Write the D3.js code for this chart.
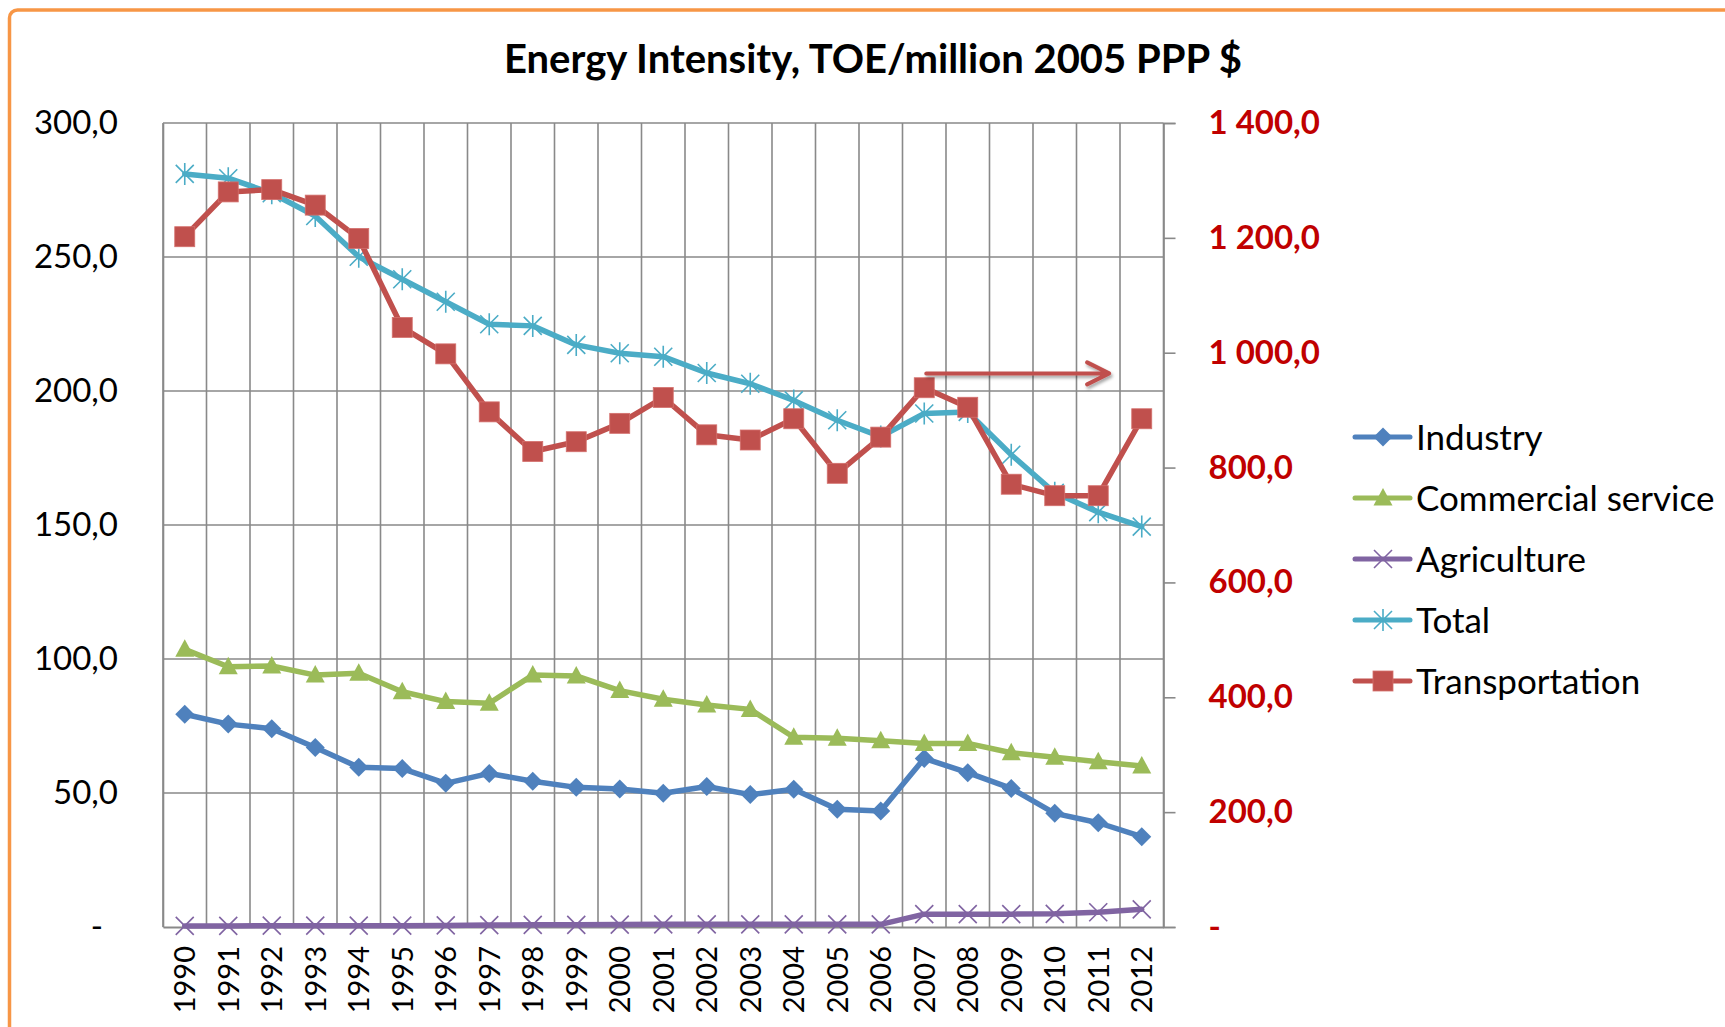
<!DOCTYPE html>
<html>
<head>
<meta charset="utf-8">
<script src="https://cdn.jsdelivr.net/npm/d3@7/dist/d3.min.js"></script>
<style>
  html, body { margin: 0; padding: 0; background: #fff; }
  svg { display: block; font-family: Lato, "Open Sans", sans-serif; }
</style>
</head>
<body>
<svg id="chart" width="1725" height="1027"></svg>
<script>
// data
//- - - - - - - - - - - - - - - - - - - - - -
var years = ["1990", "1991", "1992", "1993", "1994", "1995", "1996", "1997", "1998", "1999", "2000",
             "2001", "2002", "2003", "2004", "2005", "2006", "2007", "2008", "2009", "2010", "2011", "2012"];

var industry       = [79.4, 75.7, 74.0, 67.0, 59.6, 59.1, 53.6, 57.3, 54.4, 52.1, 51.5, 49.9,
                      52.4, 49.4, 51.4, 43.9, 43.3, 62.9, 57.6, 51.7, 42.4, 38.9, 33.7];
var commercial     = [103.6, 97.1, 97.4, 94.0, 94.7, 87.8, 84.1, 83.5, 94.0, 93.7, 88.2, 85.0,
                      82.8, 81.2, 70.8, 70.4, 69.5, 68.5, 68.5, 65.0, 63.3, 61.7, 60.1];
var agriculture    = [0.4, 0.4, 0.5, 0.5, 0.5, 0.5, 0.6, 0.7, 0.8, 0.8, 0.9, 1.0,
                      1.0, 1.0, 1.0, 1.0, 1.0, 4.8, 4.8, 4.8, 4.9, 5.5, 6.6];
var total          = [281.0, 279.4, 273.8, 265.3, 250.1, 241.7, 233.3, 224.9, 224.3, 217.2, 214.1, 212.8,
                      206.7, 202.7, 196.5, 189.1, 183.0, 191.6, 192.2, 176.2, 162.0, 154.8, 149.4];
var transportation = [1202, 1280, 1284, 1257, 1199, 1044, 998, 897, 828, 845, 877, 922,
                      857, 848, 885, 790, 853, 939, 905, 771, 751, 751, 885];

var leftTicks   = [0, 50, 100, 150, 200, 250, 300];
var leftLabels  = ["-", "50,0", "100,0", "150,0", "200,0", "250,0", "300,0"];
var rightTicks  = [0, 200, 400, 600, 800, 1000, 1200, 1400];
var rightLabels = ["-", "200,0", "400,0", "600,0", "800,0", "1 000,0", "1 200,0", "1 400,0"];

var title = "Energy Intensity, TOE/million 2005 PPP $";

// arrow pointing at the right axis: starts at 2007, ends part way through 2011/2012
var arrowFrom = 17, arrowTo = 21.25, arrowValue = 964;

var series = [
  { name: "Industry",           values: industry,       axis: "left",  color: "#4F81BD", marker: "diamond" },
  { name: "Commercial service", values: commercial,     axis: "left",  color: "#9BBB59", marker: "triangle" },
  { name: "Agriculture",        values: agriculture,    axis: "left",  color: "#8064A2", marker: "cross" },
  { name: "Total",              values: total,          axis: "left",  color: "#4BACC6", marker: "star" },
  { name: "Transportation",     values: transportation, axis: "right", color: "#C0504D", marker: "square" }
];

// layout
//- - - - - - - - - - - - - - - - - - - - - -
var plot = { left: 163, right: 1163.5, top: 123, bottom: 927 };
var gridColor = "#898989";

var svg = d3.select("#chart");

// orange frame of the chart area
svg.append("rect")
  .attr("x", 9.5).attr("y", 10)
  .attr("width", 1800).attr("height", 1100)
  .attr("rx", 8)
  .attr("fill", "#fff")
  .attr("stroke", "#F79646")
  .attr("stroke-width", 3.5);

var x = d3.scaleBand().domain(years).range([plot.left, plot.right]).padding(0);
var xIdx = d3.scaleLinear().domain([0, years.length]).range([plot.left, plot.right]);
var yL = d3.scaleLinear().domain([0, 300]).range([plot.bottom, plot.top]);
var yR = d3.scaleLinear().domain([0, 1400]).range([plot.bottom, plot.top]);

var cx = function (i) { return x(years[i]) + x.bandwidth() / 2; };

// title
svg.append("text")
  .attr("x", 873).attr("y", 73)
  .attr("text-anchor", "middle")
  .attr("font-size", 40).attr("font-weight", "bold")
  .attr("fill", "#000")
  .text(title);

// grid
//- - - - - - - - - - - - - - - - - - - - - -
var grid = svg.append("g");
grid.selectAll("line.h")
  .data(leftTicks.slice(1))
  .enter().append("line")
  .attr("x1", plot.left).attr("x2", plot.right)
  .attr("y1", function (d) { return yL(d); }).attr("y2", function (d) { return yL(d); })
  .attr("stroke", gridColor).attr("stroke-width", 1.6);

grid.selectAll("line.v")
  .data(d3.range(years.length + 1))
  .enter().append("line")
  .attr("x1", function (d) { return xIdx(d); }).attr("x2", function (d) { return xIdx(d); })
  .attr("y1", plot.top).attr("y2", plot.bottom)
  .attr("stroke", gridColor).attr("stroke-width", 1.6);

// axes
//- - - - - - - - - - - - - - - - - - - - - -
var leftAxis = d3.axisLeft(yL).tickValues(leftTicks).tickSize(0).tickPadding(45)
  .tickFormat(function (d, i) { return leftLabels[i]; });
var gL = svg.append("g").attr("transform", "translate(" + plot.left + ",0)").call(leftAxis);
gL.select(".domain").attr("stroke", gridColor).attr("stroke-width", 1.6);
gL.selectAll("text")
  .attr("font-size", 33).attr("fill", "#000")
  .attr("font-family", "Lato, 'Open Sans', sans-serif");
gL.selectAll(".tick").filter(function (d) { return d === 0; }).select("text").attr("dx", -15);

var rightAxis = d3.axisRight(yR).tickValues(rightTicks).tickSize(12).tickPadding(33)
  .tickFormat(function (d, i) { return rightLabels[i]; });
var gR = svg.append("g").attr("transform", "translate(" + plot.right + ",0)").call(rightAxis);
gR.select(".domain").attr("stroke", gridColor).attr("stroke-width", 1.6);
gR.selectAll(".tick line").attr("stroke", gridColor).attr("stroke-width", 1.6);
gR.selectAll("text")
  .attr("font-size", 33).attr("font-weight", "bold").attr("fill", "#C00000")
  .attr("font-family", "Lato, 'Open Sans', sans-serif");

var bottomAxis = d3.axisBottom(x).tickSize(0).tickPadding(0);
var gB = svg.append("g").attr("transform", "translate(0," + plot.bottom + ")").call(bottomAxis);
gB.select(".domain").attr("stroke", gridColor).attr("stroke-width", 2);
gB.selectAll("text")
  .attr("font-size", 29).attr("fill", "#000")
  .attr("font-family", "Lato, 'Open Sans', sans-serif")
  .attr("text-anchor", "end")
  .attr("transform", "translate(0,19) rotate(-90)")
  .attr("x", 0).attr("y", 0).attr("dy", "0.36em");

// markers
//- - - - - - - - - - - - - - - - - - - - - -
var drawMarker = function (g, type, color) {
  if (type === "diamond") {
    g.append("path").attr("d", "M0,-9.5L9.5,0L0,9.5L-9.5,0Z").attr("fill", color);
  } else if (type === "triangle") {
    g.append("path").attr("d", "M0,-10L9.5,7.5L-9.5,7.5Z").attr("fill", color);
  } else if (type === "square") {
    g.append("rect").attr("x", -10).attr("y", -10).attr("width", 20).attr("height", 20)
      .attr("fill", color).attr("stroke", "#d4706d").attr("stroke-width", 0.8);
  } else if (type === "cross") {
    g.append("path").attr("d", "M-9,-9L9,9M-9,9L9,-9")
      .attr("stroke", color).attr("stroke-width", 1.6).attr("fill", "none");
  } else if (type === "star") {
    g.append("path").attr("d", "M-9,-9L9,9M-9,9L9,-9M0,-11L0,11")
      .attr("stroke", color).attr("stroke-width", 1.6).attr("fill", "none");
  }
};

// series
//- - - - - - - - - - - - - - - - - - - - - -
series.forEach(function (s) {
  var yScale = s.axis === "left" ? yL : yR;
  var line = d3.line()
    .x(function (d, i) { return cx(i); })
    .y(function (d) { return yScale(d); });

  var g = svg.append("g");
  g.append("path")
    .datum(s.values)
    .attr("d", line)
    .attr("fill", "none")
    .attr("stroke", s.color)
    .attr("stroke-width", 5.5)
    .attr("stroke-linejoin", "round")
    .attr("stroke-linecap", "round");

  g.selectAll("g.mk")
    .data(s.values)
    .enter().append("g")
    .attr("transform", function (d, i) { return "translate(" + cx(i) + "," + yScale(d) + ")"; })
    .each(function () { drawMarker(d3.select(this), s.marker, s.color); });
});

// arrow towards the right axis
//- - - - - - - - - - - - - - - - - - - - - -
var defs = svg.append("defs");
var shadow = defs.append("filter").attr("id", "shadow").attr("x", "-10%").attr("y", "-50%")
  .attr("width", "120%").attr("height", "200%");
shadow.append("feDropShadow").attr("dx", 1.5).attr("dy", 2.5).attr("stdDeviation", 1.5)
  .attr("flood-color", "#000").attr("flood-opacity", 0.35);

var ax0 = xIdx(arrowFrom + 0.5) + 2, ax1 = xIdx(arrowTo + 0.5), ay = yR(arrowValue);
svg.append("path")
  .attr("d", "M" + ax0 + "," + ay + "L" + ax1 + "," + ay +
             "M" + (ax1 - 22) + "," + (ay - 11) + "L" + ax1 + "," + ay + "L" + (ax1 - 22) + "," + (ay + 11))
  .attr("fill", "none")
  .attr("stroke", "#C0504D")
  .attr("stroke-width", 4)
  .attr("stroke-linecap", "round")
  .attr("stroke-linejoin", "round")
  .attr("filter", "url(#shadow)");

// legend
//- - - - - - - - - - - - - - - - - - - - - -
var legend = svg.append("g").attr("transform", "translate(1355,437)");
var rows = legend.selectAll("g")
  .data(series)
  .enter().append("g")
  .attr("transform", function (d, i) { return "translate(0," + (i * 61) + ")"; });

rows.append("line")
  .attr("x1", 0).attr("x2", 55)
  .attr("stroke", function (d) { return d.color; })
  .attr("stroke-width", 5)
  .attr("stroke-linecap", "round");

rows.append("g")
  .attr("transform", "translate(28,0)")
  .each(function (d) { drawMarker(d3.select(this), d.marker, d.color); });

rows.append("text")
  .attr("x", 61).attr("dy", "0.36em")
  .attr("font-size", 35)
  .attr("fill", "#000")
  .text(function (d) { return d.name; });
</script>
</body>
</html>
